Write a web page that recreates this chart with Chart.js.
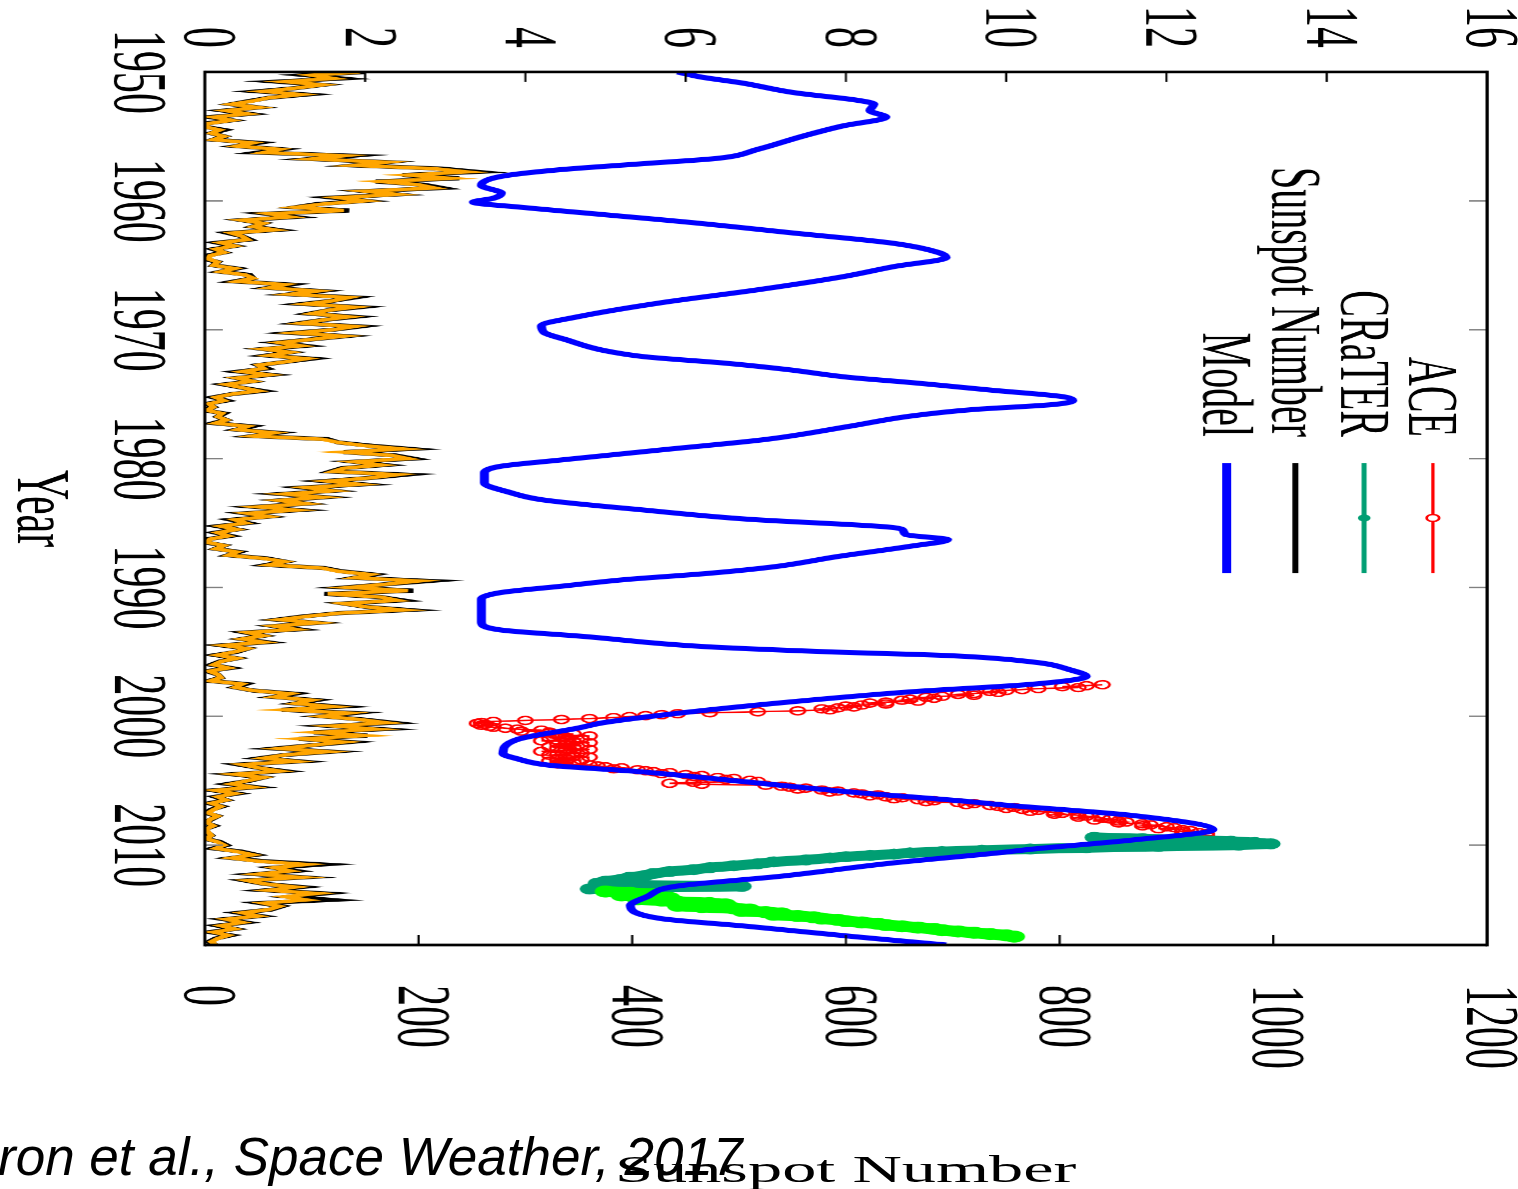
<!DOCTYPE html>
<html>
<head>
<meta charset="utf-8">
<script src="https://cdn.jsdelivr.net/npm/chart.js@4.4.1/dist/chart.umd.min.js"></script>
<style>
  html, body { margin: 0; padding: 0; background: #fff; }
  body { width: 1518px; height: 1189px; position: relative; overflow: hidden; }
  /* chart is drawn landscape, then turned a quarter clockwise and stretched */
  #doseChart {
    position: absolute; left: 0; top: 0;
    transform-origin: 0 0;
    transform: translateX(1518px) rotate(90deg) scaleY(1.7986);
  }
  .ss-title {
    position: absolute; left: 615px; top: 1150px;
    font: 38px "Liberation Serif", "Times New Roman", serif; line-height: 1;
    white-space: nowrap; transform-origin: 0 0; transform: scaleX(1.7986);
  }
  .cite {
    position: absolute; left: -2px; top: 1130px;
    font: italic 53px "Liberation Sans", Arial, sans-serif; line-height: 1;
    white-space: nowrap;
  }
</style>
</head>
<body>
<canvas id="doseChart" width="1100" height="844" style="width:1100px;height:844px"></canvas>
<div class="ss-title">Sunspot Number</div>
<div class="cite">ron et al., Space Weather, 2017</div>
<script>
const SUNSPOT_START = 1950;
const ACE_START = 1997.55;
const ACE_STEP = 0.075;

// Sunspot number, four samples a year (orange trace)
const sunspotOrange = [
  145,100,120,75, 110,85,55,90, 60,45,25,50, 20,40,8,25, 3,0,14,6,
  18,8,45,30, 70,55,130,100, 170,140,215,245, 190,230,165,200, 215,150,180,125,
  150,110,85,130, 60,80,35,55, 45,65,25,35, 40,15,28,10, 18,5,3,12,
  8,28,15,38, 45,30,75,60, 105,80,135,120, 95,140,115,100, 135,110,90,140,
  120,85,130,100, 70,90,55,80, 60,95,75,50, 55,35,60,30, 45,20,35,50,
  25,10,18,4, 8,2,16,12, 20,10,40,30, 65,45,110,125, 150,185,130,175,
  190,140,165,130, 120,180,155,115, 145,95,120,75, 110,70,95,50, 85,40,60,28,
  38,15,30,12, 22,5,2,18, 10,30,22,55, 75,60,110,125, 155,140,200,170,
  135,190,115,165, 180,130,150,185, 125,95,70,105, 65,85,40,55, 35,55,18,40,
  28,12,30,15, 8,22,4,12, 15,5,35,28, 45,80,65,100, 85,120,75,135,
  110,145,170,120, 160,105,150,90, 130,100,70,115, 75,55,85,35, 50,70,28,55,
  40,25,45,10, 28,12,20,6, 15,8,3,12, 5,2,8,1, 3,6,1,12,
  18,10,30,45, 25,50,95,65, 80,50,90,40, 55,85,60,105, 75,95,55,70,
  60,35,50,20, 35,15,28,8, 22,12,6,10
];

// Sunspot number, four samples a year (black trace)
const sunspotBlack = [
  150,95,128,68, 110,85,50,95, 60,42,25,50, 18,42,5,25, 0,0,18,6,
  18,8,50,30, 72,50,138,100, 170,140,222,255, 185,238,160,205, 222,150,180,120,
  150,105,85,135, 58,84,35,55, 45,68,22,35, 42,12,28,8, 18,2,0,12,
  8,30,15,42, 45,28,80,60, 108,80,140,120, 92,145,115,98, 140,110,88,145,
  120,82,132,100, 68,94,55,80, 58,100,75,50, 58,32,62,30, 45,18,35,54,
  25,8,20,2, 8,0,18,12, 20,8,44,30, 68,45,115,125, 155,192,130,178,
  195,140,168,128, 118,188,155,112, 148,92,120,72, 112,70,95,48, 88,38,60,25,
  40,12,30,10, 24,3,0,18, 10,32,22,58, 75,58,112,128, 158,140,210,170,
  132,195,112,165, 185,130,150,190, 125,92,68,105, 65,88,38,55, 35,58,16,40,
  30,10,30,14, 6,24,2,12, 15,4,38,28, 45,84,65,104, 85,126,72,140,
  110,148,176,118, 165,102,152,88, 135,100,66,118, 75,52,88,32, 50,74,26,55,
  42,22,48,8, 30,10,20,4, 16,6,1,12, 6,0,9,0, 2,6,0,14,
  20,8,34,48, 25,55,110,65, 85,48,92,38, 55,90,58,112, 80,118,52,72,
  62,32,52,18, 38,12,28,5, 24,10,4,10
];

// Model dose rate
const modelYears = [
  1950.0, 1950.4, 1950.85, 1951.6, 1952.2, 1952.5, 1953.0, 1953.5, 1954.2, 1955.0,
  1956.0, 1956.7, 1957.1, 1957.6, 1958.1, 1958.8, 1959.4, 1959.8, 1960.1, 1960.5,
  1961.0, 1961.7, 1962.5, 1963.3, 1964.0, 1964.4, 1965.1, 1965.9, 1966.9, 1967.9,
  1969.0, 1969.7, 1970.2, 1970.8, 1971.6, 1972.1, 1972.6, 1973.1, 1973.7, 1974.1,
  1974.7, 1975.2, 1975.5, 1975.8, 1976.2, 1976.7, 1977.5, 1978.5, 1979.3, 1980.1,
  1980.6, 1981.1, 1981.9, 1982.6, 1983.2, 1984.0, 1984.7, 1985.3, 1985.5, 1985.9,
  1986.3, 1986.8, 1987.6, 1988.4, 1988.9, 1989.4, 1989.9, 1990.4, 1990.9, 1992.7,
  1993.3, 1993.8, 1994.6, 1995.0, 1995.3, 1995.8, 1996.4, 1996.9, 1997.5, 1998.1,
  1998.9, 1999.7, 2000.5, 2000.9, 2001.8, 2002.9, 2003.3, 2003.8, 2004.3, 2005.1,
  2005.9, 2006.6, 2006.9, 2007.7, 2008.8, 2009.6, 2010.3, 2010.6, 2011.4, 2012.4,
  2013.2, 2014.0, 2014.7, 2015.7, 2016.3, 2017.1, 2017.75
];
const modelDose = [
  5.9, 6.2, 6.7, 7.35, 8.15, 8.35, 8.3, 8.5, 7.95, 7.45,
  6.9, 6.4, 5.5, 4.4, 3.7, 3.45, 3.7, 3.6, 3.35, 3.95,
  4.85, 6.1, 7.35, 8.6, 9.15, 9.25, 8.6, 7.95, 6.9, 5.7,
  4.65, 4.2, 4.23, 4.52, 4.97, 5.49, 6.5, 7.28, 8.04, 8.81,
  9.83, 10.71, 10.83, 10.6, 9.58, 8.81, 8.04, 7.02, 5.74, 4.46,
  3.69, 3.49, 3.49, 3.79, 4.21, 5.49, 6.76, 8.5, 8.7, 8.75,
  9.27, 8.81, 7.9, 7.1, 6.3, 5.23, 4.46, 3.69, 3.45, 3.45,
  3.69, 4.72, 6.25, 7.79, 9.32, 10.35, 10.8, 11.0, 10.35, 8.81,
  7.28, 6.0, 4.97, 4.67, 3.9, 3.72, 3.9, 4.3, 5.43, 6.77,
  8.1, 9.5, 10.0, 11.58, 12.58, 11.58, 10.34, 9.9, 8.56, 7.21,
  5.87, 5.52, 5.31, 5.69, 6.77, 8.1, 9.25
];

// ACE dose rate, 27-day means from 1997.55
const aceDose = [
  11.2, 11.0, 10.7, 10.9, 10.4, 10.2, 10.0, 9.8, 9.9, 9.6,
  9.4, 9.6, 9.2, 9.0, 9.1, 8.8, 8.7, 8.9, 8.5, 8.3,
  8.5, 8.2, 8.0, 8.1, 7.9, 7.7, 7.8, 7.4, 6.9, 6.3,
  5.9, 5.7, 5.5, 5.3, 5.1, 4.8, 4.45, 4.0, 3.6, 3.45,
  3.4, 3.5, 3.45, 3.55, 3.6, 3.75, 3.9, 4.2, 3.95, 4.3,
  4.3, 4.6, 4.4, 4.8, 4.5, 4.3, 4.7, 4.5, 4.2, 4.6,
  4.8, 4.4, 4.5, 4.7, 4.3, 4.6, 4.4, 4.8, 4.5, 4.2,
  4.6, 4.7, 4.4, 4.3, 4.6, 4.8, 4.5, 4.4, 4.7, 4.3,
  4.5, 4.6, 4.4, 4.8, 4.9, 5.0, 5.2, 5.1, 5.4, 5.5,
  5.6, 5.8, 5.7, 6.0, 6.2, 6.1, 6.4, 6.6, 6.5, 6.8,
  6.9, 6.1, 5.8, 6.2, 7.0, 7.2, 7.3, 7.5, 7.4, 7.7,
  7.9, 7.8, 8.1, 8.2, 8.4, 8.3, 8.5, 8.7, 8.6, 8.9,
  9.1, 9.0, 9.4, 9.6, 9.5, 9.8, 9.9, 10.1, 10.0, 10.2,
  10.4, 10.3, 10.6, 10.7, 10.6, 10.9, 11.0, 10.9, 11.2, 11.3,
  11.1, 11.4, 11.5, 11.4, 11.7, 11.8, 11.7, 12.0, 12.1, 11.9,
  12.2, 12.3, 12.2, 12.4, 12.5, 12.3, 12.5, 12.4
];

// CRaTER dose rate
const craterYears = [
  2009.4, 2009.5, 2009.6, 2009.7, 2009.8, 2009.9, 2010.0, 2010.1, 2010.2, 2010.3,
  2010.4, 2010.5, 2010.6, 2010.7, 2010.8, 2010.9, 2011.0, 2011.15, 2011.3, 2011.45,
  2011.6, 2011.75, 2011.9, 2012.05, 2012.2, 2012.35, 2012.5, 2012.65, 2012.8, 2012.95,
  2013.1, 2013.2, 2013.3, 2013.4
];
const craterDose = [
  11.1, 11.7, 12.3, 12.8, 13.1, 13.3, 12.9, 11.9, 11.0, 10.3,
  9.7, 9.2, 8.8, 8.6, 8.3, 8.0, 7.8, 7.5, 7.1, 6.9,
  6.6, 6.3, 6.1, 5.8, 5.6, 5.5, 5.3, 5.2, 5.0, 4.9,
  5.4, 6.7, 5.5, 4.8
];

// later CRaTER dose rate (light green)
const craterLateYears = [
  2013.6, 2013.7, 2013.8, 2013.9, 2014.0, 2014.1, 2014.2, 2014.3, 2014.4, 2014.5,
  2014.6, 2014.7, 2014.8, 2014.9, 2015.0, 2015.1, 2015.2, 2015.3, 2015.4, 2015.5,
  2015.6, 2015.7, 2015.8, 2015.9, 2016.0, 2016.1, 2016.2, 2016.3, 2016.4, 2016.5,
  2016.6, 2016.7, 2016.8, 2016.9, 2017.0, 2017.1
];
const craterLateDose = [
  5.0, 5.3, 5.6, 5.2, 5.5, 5.8, 5.4, 5.7, 5.9, 6.3,
  6.5, 5.9, 6.2, 6.6, 6.8, 6.7, 7.0, 7.2, 7.1, 7.4,
  7.6, 7.7, 7.9, 8.0, 8.2, 8.4, 8.5, 8.7, 8.9, 9.1,
  9.2, 9.4, 9.6, 9.8, 10.0, 10.1
];

// key entries, top to bottom
const keyLabels = ['ACE', 'CRaTER', 'Sunspot Number', 'Model'];
const keyColors = ['#ff0000', '#009e73', '#000000', '#0000ff'];
const keyWidths = [1.7, 2.8, 3.3, 5];
const keyMarkers = ['open', 'filled', null, null];

const SERIF = '"Liberation Serif", "Times New Roman", serif';

function pairs(xs, ys) {
  return xs.map((x, i) => ({ x, y: ys[i] }));
}
function sampled(vals, start, step) {
  return vals.map((v, i) => ({ x: start + i * step, y: v }));
}

// Frame and inward tick marks
const frameTicks = {
  id: 'frameTicks',
  afterDatasetsDraw(chart) {
    const { ctx, chartArea: a, scales } = chart;
    ctx.save();
    ctx.strokeStyle = '#808080';
    ctx.lineWidth = 1.5;
    ctx.beginPath();
    scales.x.ticks.forEach(t => {
      const px = scales.x.getPixelForValue(t.value);
      ctx.moveTo(px, a.bottom); ctx.lineTo(px, a.bottom - 10);
      ctx.moveTo(px, a.top); ctx.lineTo(px, a.top + 10);
    });
    ctx.stroke();

    ctx.strokeStyle = '#000';
    ctx.lineWidth = 1.2;
    ctx.beginPath();
    scales.y.ticks.forEach(t => {
      const py = scales.y.getPixelForValue(t.value);
      ctx.moveTo(a.left, py); ctx.lineTo(a.left + 10, py);
    });
    scales.y2.ticks.forEach(t => {
      const py = scales.y2.getPixelForValue(t.value);
      ctx.moveTo(a.right, py); ctx.lineTo(a.right - 10, py);
    });
    ctx.stroke();

    ctx.lineWidth = 2.7;
    ctx.beginPath();
    ctx.moveTo(a.left, a.top); ctx.lineTo(a.left, a.bottom);
    ctx.moveTo(a.right, a.top); ctx.lineTo(a.right, a.bottom);
    ctx.stroke();
    ctx.lineWidth = 1.8;
    ctx.beginPath();
    ctx.moveTo(a.left - 1.35, a.top); ctx.lineTo(a.right + 1.35, a.top);
    ctx.moveTo(a.left - 1.35, a.bottom); ctx.lineTo(a.right + 1.35, a.bottom);
    ctx.stroke();
    ctx.restore();
  }
};

// gnuplot-style key: label, then sample line
const keyBox = {
  id: 'keyBox',
  afterDraw(chart) {
    const { ctx, chartArea: a } = chart;
    const textRight = a.left + 365;
    const lineStart = a.left + 391;
    const lineEnd = a.left + 501;
    const mid = (lineStart + lineEnd) / 2;
    ctx.save();
    ctx.font = '40px ' + SERIF;
    ctx.textAlign = 'right';
    ctx.textBaseline = 'alphabetic';
    keyLabels.forEach((label, i) => {
      const row = a.top + 30.1 + i * 38.2;
      ctx.fillStyle = '#000';
      ctx.fillText(label, textRight, row + 13);
      ctx.strokeStyle = keyColors[i];
      ctx.lineWidth = keyWidths[i];
      ctx.beginPath();
      ctx.moveTo(lineStart, row); ctx.lineTo(lineEnd, row);
      ctx.stroke();
      if (keyMarkers[i]) {
        ctx.beginPath();
        ctx.arc(mid, row, 3.5, 0, Math.PI * 2);
        if (keyMarkers[i] === 'filled') {
          ctx.fillStyle = keyColors[i];
          ctx.fill();
        } else {
          ctx.lineWidth = 1.5;
          ctx.fillStyle = '#fff';
          ctx.fill();
          ctx.stroke();
        }
      }
    });
    ctx.restore();
  }
};

function fixSize(prop, size) {
  return scale => {
    scale[prop] = size;
    scale.paddingTop = 0; scale.paddingBottom = 0;
    scale.paddingLeft = 0; scale.paddingRight = 0;
  };
}

Chart.defaults.font.family = SERIF;
Chart.defaults.font.size = 42;
Chart.defaults.color = '#000';

new Chart(document.getElementById('doseChart'), {
  type: 'line',
  data: {
    datasets: [
      {
        label: 'Model', data: pairs(modelYears, modelDose), yAxisID: 'y',
        borderColor: '#0000ff', borderWidth: 5, pointRadius: 0,
        cubicInterpolationMode: 'monotone'
      },
      {
        label: 'CRaTER late', data: pairs(craterLateYears, craterLateDose), yAxisID: 'y',
        borderColor: '#00ff00', backgroundColor: '#00ff00', borderWidth: 11,
        borderJoinStyle: 'round', borderCapStyle: 'round',
        pointRadius: 6, pointBorderWidth: 0
      },
      {
        label: 'CRaTER', data: pairs(craterYears, craterDose), yAxisID: 'y',
        borderColor: '#009e73', backgroundColor: '#009e73', borderWidth: 10,
        borderJoinStyle: 'round', borderCapStyle: 'round',
        pointRadius: 5.5, pointBorderWidth: 0
      },
      {
        label: 'ACE', data: sampled(aceDose, ACE_START, ACE_STEP), yAxisID: 'y',
        borderColor: '#ff0000', borderWidth: 1.5,
        pointRadius: 4, pointBorderWidth: 1.5,
        pointBorderColor: '#ff0000', pointBackgroundColor: 'rgba(0,0,0,0)'
      },
      {
        label: 'Sunspot (orange)', data: sampled(sunspotOrange, SUNSPOT_START, 0.25), yAxisID: 'y2',
        borderColor: '#ffa500', borderWidth: 3.4, pointRadius: 0
      },
      {
        label: 'Sunspot Number', data: sampled(sunspotBlack, SUNSPOT_START, 0.25), yAxisID: 'y2',
        borderColor: '#000000', borderWidth: 4.2, pointRadius: 0
      }
    ]
  },
  options: {
    responsive: false,
    devicePixelRatio: 1.8,
    animation: false,
    events: [],
    layout: { padding: { top: 17.2, left: 0, right: 0, bottom: 0 }, autoPadding: false },
    plugins: { legend: { display: false }, tooltip: { enabled: false } },
    elements: { line: { tension: 0, borderJoinStyle: 'miter' } },
    scales: {
      x: {
        type: 'linear', position: 'bottom', min: 1950, max: 2017.75,
        grid: { display: false, drawTicks: false }, border: { display: false },
        ticks: {
          stepSize: 10, includeBounds: false, maxRotation: 0, minRotation: 0,
          autoSkip: false, padding: 14, callback: v => String(v)
        },
        title: { display: true, text: 'Year', padding: { top: 0, bottom: -4 }, font: { size: 42 } },
        afterFit: fixSize('height', 114)
      },
      y: {
        type: 'linear', position: 'left', min: 0, max: 16,
        grid: { display: false, drawTicks: false }, border: { display: false },
        ticks: { stepSize: 2, autoSkip: false, padding: 24, callback: v => String(v) },
        afterFit: fixSize('width', 72)
      },
      y2: {
        type: 'linear', position: 'right', min: 0, max: 1200,
        grid: { display: false, drawTicks: false }, border: { display: false },
        ticks: { stepSize: 200, autoSkip: false, padding: 40, callback: v => String(v) },
        afterFit: fixSize('width', 155)
      }
    }
  },
  plugins: [frameTicks, keyBox]
});
</script>
</body>
</html>
